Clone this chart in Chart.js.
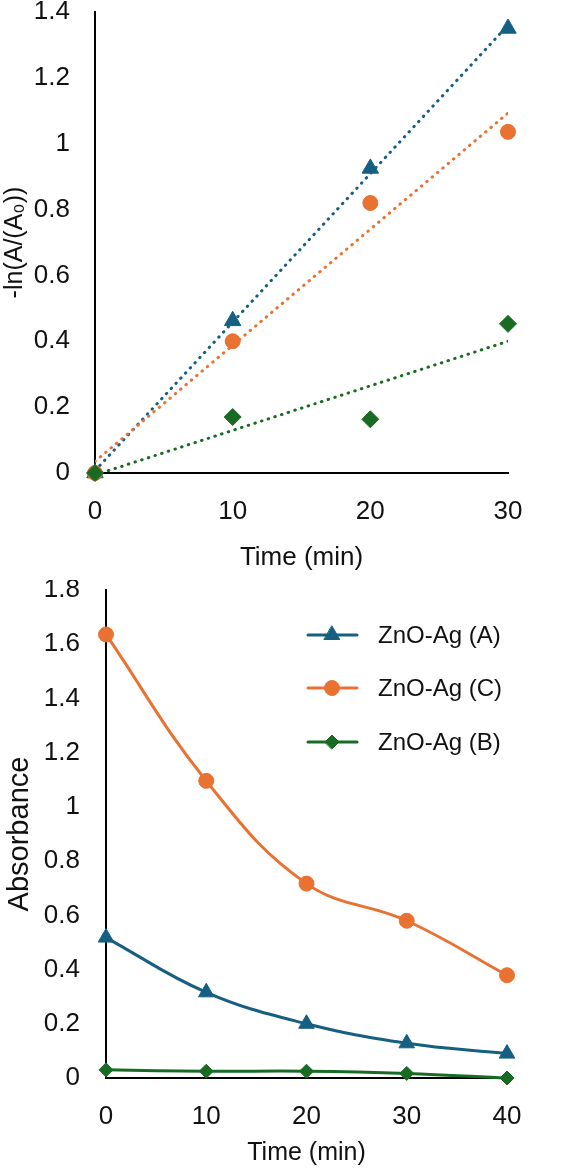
<!DOCTYPE html>
<html>
<head>
<meta charset="utf-8">
<script src="https://cdn.jsdelivr.net/npm/chart.js"></script>
<style>
  html, body { margin: 0; padding: 0; background: #fff; }
  .box { position: relative; width: 574px; }
  canvas { display: block; }
</style>
</head>
<body>
<div class="box" style="height:580px"><canvas id="rateChart" width="574" height="580"></canvas></div>
<div class="box" style="height:588px"><canvas id="absChart" width="574" height="588"></canvas></div>
<script>
// top panel: -ln(A/A0) vs time, with linear trendlines
const rateTimes = [0, 10, 20, 30];
const rateA = [0, 0.462, 0.925, 1.35];
const rateC = [0, 0.40, 0.82, 1.036];
const rateB = [0, 0.17, 0.163, 0.453];
const fitTimes = [0, 30];
const fitA = [0.007, 1.36];
const fitC = [0.035, 1.093];
const fitB = [-0.006, 0.40];

// bottom panel: absorbance vs time
const absTimes = [0, 10, 20, 30, 40];
const absA = [0.518, 0.316, 0.20, 0.128, 0.09];
const absC = [1.636, 1.096, 0.717, 0.58, 0.379];
const absB = [0.03, 0.025, 0.025, 0.017, 0.0];

const seriesNames = ['ZnO-Ag (A)', 'ZnO-Ag (C)', 'ZnO-Ag (B)'];

const BLUE = '#156082';
const ORANGE = '#E97132';
const GREEN = '#196B24';
const FONT = '"Liberation Sans", Arial, sans-serif';

const pts = (xs, ys) => xs.map((x, i) => ({ x, y: ys[i] }));
const fmt = (v) => String(+Number(v).toFixed(1));

function markerSet(label, xs, ys, color, style, radius, order) {
    return {
        label,
        data: pts(xs, ys),
        showLine: false,
        pointStyle: style,
        pointRadius: radius,
        pointBackgroundColor: color,
        pointBorderColor: color,
        pointBorderWidth: 1,
        clip: false,
        order,
    };
}

function trendSet(xs, ys, color, order) {
    return {
        label: 'trend',
        data: pts(xs, ys),
        showLine: true,
        borderColor: color,
        borderWidth: 3,
        borderDash: [0.5, 6.5],
        borderCapStyle: 'round',
        pointRadius: 0,
        fill: false,
        order,
    };
}

const axisBorder = { display: true, color: '#000', width: 2 };
// tick marks are hidden; tickLength only spaces the labels from the axis
const noGrid = (gap) => ({ display: false, drawTicks: true, tickLength: gap });

new Chart(document.getElementById('rateChart'), {
    type: 'scatter',
    data: {
        datasets: [
            trendSet(fitTimes, fitA, BLUE, 6),
            trendSet(fitTimes, fitC, ORANGE, 5),
            trendSet(fitTimes, fitB, GREEN, 4),
            markerSet(seriesNames[0], rateTimes, rateA, BLUE, 'triangle', 9.5, 3),
            markerSet(seriesNames[1], rateTimes, rateC, ORANGE, 'circle', 7.5, 2),
            markerSet(seriesNames[2], rateTimes, rateB, GREEN, 'rectRot', 8.5, 1),
        ],
    },
    options: {
        responsive: false,
        animation: false,
        layout: { padding: { left: 0, right: 66, top: 12, bottom: 0 } },
        plugins: { legend: { display: false }, tooltip: { enabled: false } },
        scales: {
            x: {
                type: 'linear',
                min: 0,
                max: 30,
                grid: noGrid(27),
                border: axisBorder,
                ticks: { stepSize: 10, color: '#111', padding: 0, font: { family: FONT, size: 26, lineHeight: 0.9 }, callback: fmt },
                title: { display: true, text: 'Time (min)', color: '#111', padding: { top: 0, bottom: 7 }, font: { family: FONT, size: 26 } },
                afterFit: (scale) => { scale.height = 107; },
            },
            y: {
                min: 0,
                max: 1.4,
                grid: noGrid(25),
                border: axisBorder,
                ticks: { stepSize: 0.2, color: '#111', padding: 0, font: { family: FONT, size: 26, lineHeight: 0.9 }, callback: fmt },
                title: { display: true, text: '-ln(A/(A\u2080))', color: '#111', padding: { top: 0, bottom: 0 }, font: { family: FONT, size: 25 } },
                afterFit: (scale) => { scale.width = 95; },
            },
        },
    },
});

// legend with line + marker samples, like the spreadsheet legend
const lineLegend = {
    id: 'lineLegend',
    afterDraw(chart) {
        const ctx = chart.ctx;
        const rows = [55, 108, 162];
        ctx.save();
        chart.data.datasets.forEach((ds, i) => {
            const y = rows[i];
            ctx.strokeStyle = ds.borderColor;
            ctx.lineWidth = 3;
            ctx.lineCap = 'round';
            ctx.beginPath();
            ctx.moveTo(308, y);
            ctx.lineTo(357, y);
            ctx.stroke();
            ctx.fillStyle = ds.borderColor;
            ctx.lineWidth = 1;
            Chart.helpers.drawPoint(ctx, { pointStyle: ds.pointStyle, radius: ds.pointRadius, rotation: 0, borderWidth: 1 }, 332, y);
            ctx.fillStyle = '#111';
            ctx.font = '24px ' + FONT;
            ctx.textAlign = 'left';
            ctx.textBaseline = 'middle';
            ctx.fillText(ds.label, 378, y + 1);
        });
        ctx.restore();
    },
};

function curveSet(label, ys, color, style, radius) {
    return {
        label,
        data: pts(absTimes, ys),
        showLine: true,
        borderColor: color,
        backgroundColor: color,
        borderWidth: 3,
        tension: 0.4,
        pointStyle: style,
        pointRadius: radius,
        pointBackgroundColor: color,
        pointBorderColor: color,
        pointBorderWidth: 1,
        clip: false,
    };
}

new Chart(document.getElementById('absChart'), {
    type: 'scatter',
    data: {
        datasets: [
            curveSet(seriesNames[0], absA, BLUE, 'triangle', 9),
            curveSet(seriesNames[1], absC, ORANGE, 'circle', 7.5),
            curveSet(seriesNames[2], absB, GREEN, 'rectRot', 7),
        ],
    },
    options: {
        responsive: false,
        animation: false,
        layout: { padding: { left: 0, right: 67, top: 8, bottom: 0 } },
        plugins: { legend: { display: false }, tooltip: { enabled: false } },
        scales: {
            x: {
                type: 'linear',
                min: 0,
                max: 40,
                grid: noGrid(27),
                border: axisBorder,
                ticks: { stepSize: 10, color: '#111', padding: 0, font: { family: FONT, size: 26, lineHeight: 0.9 }, callback: fmt },
                title: { display: true, text: 'Time (min)', color: '#111', padding: { top: 0, bottom: 0 }, font: { family: FONT, size: 25 } },
                afterFit: (scale) => { scale.height = 90; },
            },
            y: {
                min: 0,
                max: 1.8,
                grid: noGrid(26),
                border: axisBorder,
                ticks: { stepSize: 0.2, color: '#111', padding: 0, font: { family: FONT, size: 26, lineHeight: 0.6 }, callback: fmt },
                title: { display: true, text: 'Absorbance', color: '#111', padding: { top: 3, bottom: 0 }, font: { family: FONT, size: 29 } },
                afterFit: (scale) => { scale.width = 106; },
            },
        },
    },
    plugins: [lineLegend],
});
</script>
</body>
</html>
